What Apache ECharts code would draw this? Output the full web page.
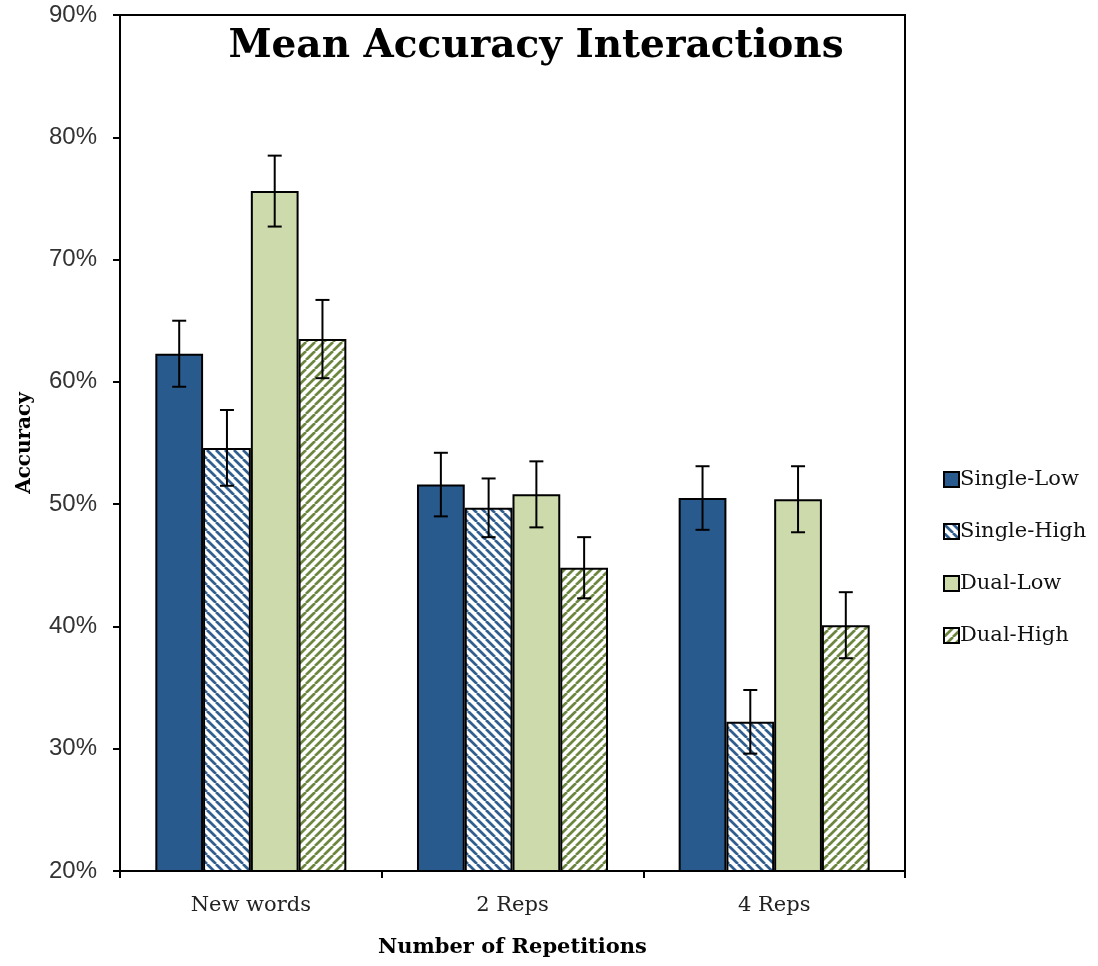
<!DOCTYPE html>
<html>
<head>
<meta charset="utf-8">
<script src="https://cdn.jsdelivr.net/npm/echarts@6/dist/echarts.min.js"></script>
<style>
html,body{margin:0;padding:0;background:#fff;}
#main{width:1098px;height:966px;}
</style>
</head>
<body>
<div id="main"></div>
<script>
const categories = ['New words', '2 Reps', '4 Reps'];
const seriesNames = ['Single-Low', 'Single-High', 'Dual-Low', 'Dual-High'];
const singleLow = [62.3, 51.6, 50.5];
const singleHigh = [54.6, 49.7, 32.2];
const dualLow = [75.6, 50.8, 50.4];
const dualHigh = [63.5, 44.8, 40.1];
const errSingleLow = [2.7, 2.6, 2.6];
const errSingleHigh = [3.1, 2.4, 2.6];
const errDualLow = [2.9, 2.7, 2.7];
const errDualHigh = [3.2, 2.5, 2.7];
const yTicks = [20, 30, 40, 50, 60, 70, 80, 90];

function stripes(color, dir) {
  const s = 9;
  const c = document.createElement('canvas');
  c.width = s; c.height = s;
  const g = c.getContext('2d');
  g.fillStyle = '#fff';
  g.fillRect(0, 0, s, s);
  g.strokeStyle = color;
  g.lineWidth = 2.7;
  g.beginPath();
  if (dir === 'back') {
    for (let k = -1; k <= 1; k++) {
      g.moveTo(k * s, 0); g.lineTo(k * s + s, s);
    }
  } else {
    for (let k = -1; k <= 1; k++) {
      g.moveTo(k * s, s); g.lineTo(k * s + s, 0);
    }
  }
  g.stroke();
  return { image: c, repeat: 'repeat' };
}

const values = [singleLow, singleHigh, dualLow, dualHigh];
const errs = [errSingleLow, errSingleHigh, errDualLow, errDualHigh];
const colors = ['#285A8E', stripes('#2F5E8F', 'back'), '#CDDAAB', stripes('#6C8640', 'fwd')];
const catGap = 0.27;

const series = [];
values.forEach((v, i) => {
  series.push({
    name: seriesNames[i],
    type: 'bar',
    data: v,
    barGap: '0%',
    barCategoryGap: (catGap * 100) + '%',
    itemStyle: { color: colors[i], borderColor: '#000', borderWidth: 2 },
    emphasis: { disabled: true }
  });
});

const errData = [];
values.forEach((v, i) => {
  v.forEach((val, j) => {
    errData.push([j, val - errs[i][j], val + errs[i][j], i]);
  });
});

series.push({
  type: 'custom',
  name: 'err',
  data: errData,
  encode: { x: 0, y: [1, 2] },
  z: 10,
  silent: true,
  renderItem: function (params, api) {
    const cat = api.value(0);
    const lo = api.coord([cat, api.value(1)]);
    const hi = api.coord([cat, api.value(2)]);
    const band = api.size([1, 0])[0];
    const bw = band * (1 - catGap) / 4;
    const idx = api.value(3);
    const x = lo[0] + (idx - 1.5) * bw;
    const cap = 7;
    const st = { stroke: '#000', lineWidth: 2 };
    return {
      type: 'group',
      children: [
        { type: 'line', shape: { x1: x, y1: lo[1], x2: x, y2: hi[1] }, style: st },
        { type: 'line', shape: { x1: x - cap, y1: lo[1], x2: x + cap, y2: lo[1] }, style: st },
        { type: 'line', shape: { x1: x - cap, y1: hi[1], x2: x + cap, y2: hi[1] }, style: st }
      ]
    };
  }
});

const chart = echarts.init(document.getElementById('main'));
chart.setOption({
  animation: false,
  backgroundColor: '#fff',
  title: {
    text: 'Mean Accuracy Interactions',
    left: 531, top: 22, textAlign: 'center',
    textStyle: { fontFamily: 'DejaVu Serif', fontWeight: 'bold', fontSize: 39, color: '#000' }
  },
  grid: { left: 120, right: 193, top: 15, bottom: 95, show: true, borderColor: '#000', borderWidth: 2, backgroundColor: 'transparent' },
  legend: {
    orient: 'vertical',
    left: 938, top: 464,
    itemWidth: 15, itemHeight: 15, itemGap: 31,
    icon: 'rect',
    data: seriesNames,
    textStyle: { fontFamily: 'DejaVu Serif', fontSize: 21, color: '#111', padding: [0, 0, 0, -4] },
    itemStyle: { borderColor: '#000', borderWidth: 2 }
  },
  xAxis: {
    type: 'category',
    data: categories,
    name: 'Number of Repetitions',
    nameLocation: 'middle',
    nameGap: 66,
    nameTextStyle: { fontFamily: 'DejaVu Serif', fontWeight: 'bold', fontSize: 21, color: '#000' },
    axisLine: { lineStyle: { color: '#000', width: 2 } },
    axisTick: { show: true, alignWithLabel: false, length: 7, lineStyle: { color: '#000', width: 2 } },
    axisLabel: { fontFamily: 'DejaVu Serif', fontSize: 21, color: '#222', margin: 24 }
  },
  yAxis: {
    type: 'value',
    min: 20, max: 90, interval: 10,
    name: 'Accuracy',
    nameLocation: 'middle',
    nameGap: 85,
    nameTextStyle: { fontFamily: 'DejaVu Serif', fontWeight: 'bold', fontSize: 20, color: '#000' },
    axisLine: { show: true, lineStyle: { color: '#000', width: 2 } },
    axisTick: { show: true, length: 7, lineStyle: { color: '#000', width: 2 } },
    splitLine: { show: false },
    axisLabel: {
      fontFamily: 'Liberation Sans', fontSize: 24, color: '#333', margin: 23,
      formatter: function (v) { return yTicks.indexOf(v) >= 0 ? v + '%' : ''; }
    }
  },
  series: series
});
</script>
</body>
</html>
